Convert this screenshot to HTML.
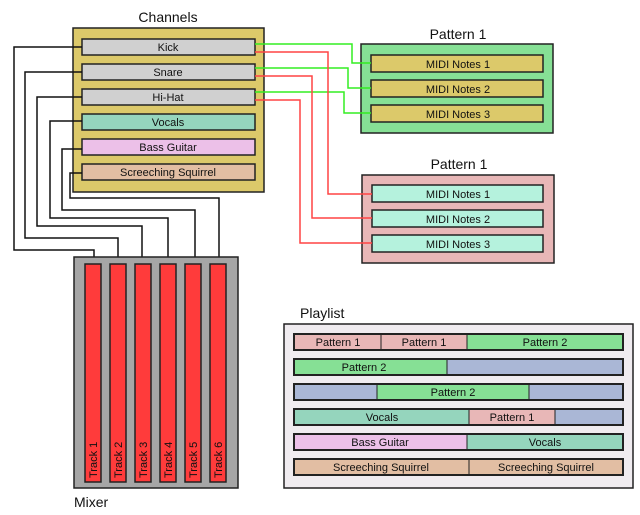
<!DOCTYPE html>
<html><head><style>body{margin:0;background:#fff}svg{display:block}text{font-family:"Liberation Sans",sans-serif;fill:#111}</style></head><body>
<svg width="640" height="515" viewBox="0 0 640 515" xmlns="http://www.w3.org/2000/svg">
<g font-size="11" text-anchor="middle">
<text x="168" y="22" font-size="14">Channels</text>
<rect x="73" y="28" width="191" height="164" fill="#dcc96a" stroke="#222" stroke-width="1.5"/>
<g stroke="#222" stroke-width="1.5">
<rect x="82" y="39" width="173" height="16" fill="#d0d0d0"/>
<rect x="82" y="64" width="173" height="16" fill="#d0d0d0"/>
<rect x="82" y="89" width="173" height="16" fill="#d0d0d0"/>
<rect x="82" y="114" width="173" height="16" fill="#95d5bd"/>
<rect x="82" y="139" width="173" height="16" fill="#ecc0e8"/>
<rect x="82" y="164" width="173" height="16" fill="#e2bea3"/>
</g>
<text x="168" y="51">Kick</text><text x="168" y="76">Snare</text><text x="168" y="101">Hi-Hat</text>
<text x="168" y="126">Vocals</text><text x="168" y="151">Bass Guitar</text><text x="168" y="176">Screeching Squirrel</text>

<text x="458" y="39" font-size="14">Pattern 1</text>
<rect x="361" y="44" width="192" height="89" fill="#86e095" stroke="#222" stroke-width="1.5"/>
<g stroke="#222" stroke-width="1.5" fill="#dcc96a">
<rect x="371" y="55" width="172" height="17"/><rect x="371" y="80" width="172" height="17"/><rect x="371" y="105" width="172" height="17"/></g>
<text x="458" y="68">MIDI Notes 1</text><text x="458" y="93">MIDI Notes 2</text><text x="458" y="118">MIDI Notes 3</text>

<text x="459" y="169" font-size="14">Pattern 1</text>
<rect x="362" y="175" width="192" height="88" fill="#e8b7b7" stroke="#222" stroke-width="1.5"/>
<g stroke="#222" stroke-width="1.5" fill="#b5f2dd">
<rect x="372" y="185" width="171" height="17"/><rect x="372" y="210" width="171" height="17"/><rect x="372" y="235" width="171" height="17"/></g>
<text x="458" y="198">MIDI Notes 1</text><text x="458" y="223">MIDI Notes 2</text><text x="458" y="248">MIDI Notes 3</text>

<g fill="none" stroke-width="1.5">
<g stroke="#33ee22">
<polyline points="255,44 352,44 352,63 371,63"/>
<polyline points="255,68 348,68 348,88 371,88"/>
<polyline points="255,92 344,92 344,113 371,113"/>
</g>
<g stroke="#ff4444">
<polyline points="255,52 328,52 328,194 372,194"/>
<polyline points="255,76 312,76 312,218 372,218"/>
<polyline points="255,100 300,100 300,243 372,243"/>
</g>
<g stroke="#111">
<polyline points="82,47 14,47 14,250 94,250 94,264"/>
<polyline points="82,72 25,72 25,238 118,238 118,264"/>
<polyline points="82,97 37,97 37,226 142,226 142,264"/>
<polyline points="82,121 50,121 50,218 168,218 168,264"/>
<polyline points="82,149 62,149 62,210 195,210 195,264"/>
<polyline points="82,173 70,173 70,198 219,198 219,264"/>
</g>
</g>

<rect x="74" y="257" width="164" height="231" fill="#a6a6a6" stroke="#222" stroke-width="1.5"/>
<g fill="#ff3b3b" stroke="#222" stroke-width="1.5">
<rect x="85" y="264" width="16" height="218"/><rect x="110" y="264" width="16" height="218"/>
<rect x="135" y="264" width="16" height="218"/><rect x="160" y="264" width="16" height="218"/>
<rect x="185" y="264" width="16" height="218"/><rect x="210" y="264" width="16" height="218"/>
</g>
<g text-anchor="start">
<text transform="translate(97,478) rotate(-90)">Track 1</text>
<text transform="translate(122,478) rotate(-90)">Track 2</text>
<text transform="translate(147,478) rotate(-90)">Track 3</text>
<text transform="translate(172,478) rotate(-90)">Track 4</text>
<text transform="translate(197,478) rotate(-90)">Track 5</text>
<text transform="translate(222,478) rotate(-90)">Track 6</text>
<text x="74" y="507" font-size="14">Mixer</text>
<text x="300" y="318" font-size="14">Playlist</text>
</g>

<rect x="284" y="324" width="349" height="164" fill="#f0ecf0" stroke="#222" stroke-width="1.5"/>
<g stroke="#222" stroke-width="1">
<rect x="294" y="334" width="87" height="16" fill="#e8b7b7"/><rect x="381" y="334" width="86" height="16" fill="#e8b7b7"/><rect x="467" y="334" width="156" height="16" fill="#86e095"/>
<rect x="294" y="359" width="153" height="16" fill="#86e095"/><rect x="447" y="359" width="176" height="16" fill="#aab7d6"/>
<rect x="294" y="384" width="83" height="16" fill="#aab7d6"/><rect x="377" y="384" width="152" height="16" fill="#86e095"/><rect x="529" y="384" width="94" height="16" fill="#aab7d6"/>
<rect x="294" y="409" width="175" height="16" fill="#95d5bd"/><rect x="469" y="409" width="86" height="16" fill="#e8b7b7"/><rect x="555" y="409" width="68" height="16" fill="#aab7d6"/>
<rect x="294" y="434" width="173" height="16" fill="#ecc0e8"/><rect x="467" y="434" width="156" height="16" fill="#95d5bd"/>
<rect x="294" y="459" width="175" height="16" fill="#e2bea3"/><rect x="469" y="459" width="154" height="16" fill="#e2bea3"/>
</g>
<g fill="none" stroke="#222" stroke-width="2">
<rect x="294" y="334" width="329" height="16"/><rect x="294" y="359" width="329" height="16"/><rect x="294" y="384" width="329" height="16"/>
<rect x="294" y="409" width="329" height="16"/><rect x="294" y="434" width="329" height="16"/><rect x="294" y="459" width="329" height="16"/>
</g>
<text x="338" y="346">Pattern 1</text><text x="424" y="346">Pattern 1</text><text x="545" y="346">Pattern 2</text>
<text x="364" y="371">Pattern 2</text>
<text x="453" y="396">Pattern 2</text>
<text x="382" y="421">Vocals</text><text x="512" y="421">Pattern 1</text>
<text x="380" y="446">Bass Guitar</text><text x="545" y="446">Vocals</text>
<text x="381" y="471">Screeching Squirrel</text><text x="546" y="471">Screeching Squirrel</text>
</g>
</svg>
</body></html>
